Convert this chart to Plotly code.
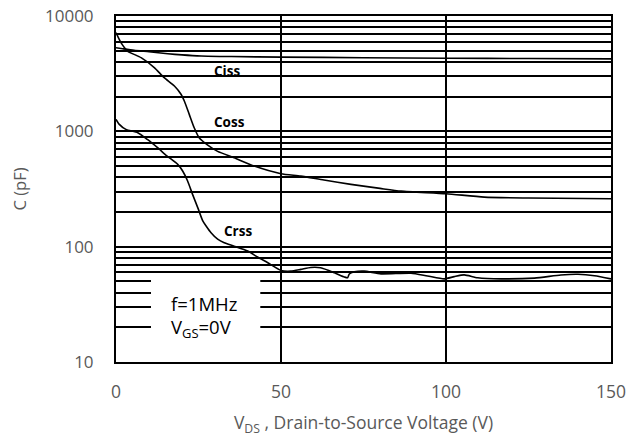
import math
import plotly.graph_objects as go

# ---- data ----
ciss_v = [0, 2, 5.5, 10, 15.7, 20, 25.8, 35, 50, 75, 100, 125, 150]
ciss = [5300, 5200, 5040, 4900, 4710, 4600, 4500, 4450, 4400, 4350, 4300, 4280, 4250]

coss_v = [0, 1.5, 3.5, 7.6, 11.6, 14.6, 17.7, 19.7, 20.7, 22.2, 23.7, 25.2, 27.8,
          30.8, 35.8, 41.9, 50, 56, 63, 71.2, 80, 86.4, 100, 111.6, 125, 150]
coss = [7170, 5870, 4970, 4350, 3570, 2920, 2470, 2095, 1833, 1403, 1074, 880, 760,
        670, 590, 500, 429, 409, 378, 347, 320, 303, 288, 269, 264, 260]

crss_v = [0, 1, 3, 6.6, 9.5, 12.6, 15.5, 18.7, 20.2, 21.7, 23.2, 24.8, 26.3, 27.3,
          28.8, 30.8, 32.8, 35.8, 39.9, 42.9, 46, 50, 53, 56, 59, 62, 66.2, 69.2,
          70.2, 70.7, 72.2, 75.2, 80.3, 89.4, 94.4, 99.5, 102.5, 105.5, 109.6,
          116.7, 126.8, 134.8, 140, 145, 150]
crss = [1270, 1150, 1040, 972, 850, 721, 610, 517, 453, 371, 284, 217, 167, 151,
        132, 116, 108, 101, 91.6, 81.3, 72.5, 62.2, 61.4, 63.5, 66, 65.6, 59.4, 54.6,
        53.8, 58, 60.5, 61.4, 58.1, 58.9, 55.7, 52.6, 55, 56.9, 53.8,
        52.6, 53.4, 56.8, 57.6, 56, 52.6]

x_ticks = [0, 50, 100, 150]
y_major = [10, 100, 1000, 10000]
y_major_text = ["10", "100", "1000", "10000"]
y_minor = [m * d for d in (10, 100, 1000) for m in range(2, 10)]

labels = [("Ciss", 33.6, 3335), ("Coss", 34.5, 1205), ("Crss", 36.9, 136)]
cond_text = ["f=1MHz", "V<sub>GS</sub>=0V"]
cond_pos = [(16.1, 32.0), (16.1, 19.7)]

# ---- figure ----
fig = go.Figure()
for xs, ys in ((ciss_v, ciss), (coss_v, coss), (crss_v, crss)):
    fig.add_trace(go.Scatter(x=xs, y=ys, mode="lines",
                             line=dict(color="black", width=1.6, shape="spline", smoothing=0.6),
                             hoverinfo="skip", showlegend=False))

gray = "#595959"
fig.update_layout(
    width=642, height=439,
    margin=dict(l=108, r=39, t=8, b=85, autoexpand=False),
    paper_bgcolor="white", plot_bgcolor="white",
    font=dict(family="Open Sans", color=gray, size=17),
    showlegend=False,
)
fig.update_xaxes(
    range=[0, 150], tickmode="array", tickvals=x_ticks, automargin=False,
    showgrid=True, gridcolor="black", gridwidth=2,
    showline=True, linecolor="black", linewidth=2, mirror=True,
    zeroline=False, ticks="", ticklabelstandoff=13, ticklabeloverflow="allow",
    tickfont=dict(size=17.5, color=gray),
    title=dict(text="V<sub>DS</sub> , Drain-to-Source Voltage (V)",
               font=dict(size=17.5, color=gray), standoff=15),
)
fig.update_yaxes(
    type="log", range=[1, 4], tickmode="array", tickvals=y_major, ticktext=y_major_text,
    automargin=False,
    showgrid=True, gridcolor="black", gridwidth=2,
    minor=dict(tickmode="array", tickvals=y_minor, showgrid=True,
               gridcolor="black", gridwidth=2, ticks=""),
    showline=True, linecolor="black", linewidth=2, mirror=True,
    zeroline=False, ticks="", ticklabelstandoff=17, ticklabeloverflow="allow",
    tickfont=dict(size=17, color=gray),
    title=dict(text="C (pF)", font=dict(size=16.5, color=gray), standoff=21),
)

# white box behind the test conditions
fig.add_shape(type="rect", xref="paper", yref="paper",
              x0=0.0707, x1=0.2915, y0=0.009, y1=0.251,
              fillcolor="white", line=dict(width=0), layer="above")

for t, x, y in labels:
    fig.add_annotation(text="<b>" + t + "</b>", x=x, y=math.log10(y), xref="x", yref="y",
                       showarrow=False, font=dict(size=13.5, color="black"))
for t, (x, y) in zip(cond_text, cond_pos):
    fig.add_annotation(text=t, x=x, y=math.log10(y), xref="x", yref="y",
                       xanchor="left", showarrow=False, font=dict(size=18.5, color="black"))

fig.write_html("out.html")
